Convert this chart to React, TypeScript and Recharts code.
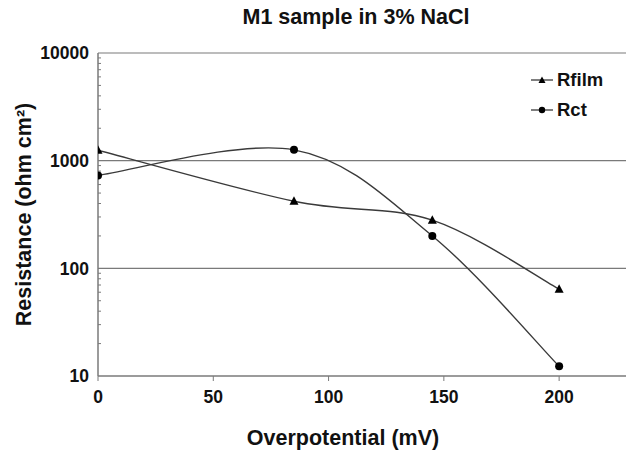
import { LineChart, Line, XAxis, YAxis, ReferenceLine } from "recharts"

// valeurs (échelle log en Y)
const overpotential = [0, 85, 145, 200]
const rFilm = [1250, 420, 280, 64]
const rCt = [730, 1260, 200, 12.3]

const xTicks = [0, 50, 100, 150, 200]
const yTicks = [10, 100, 1000, 10000]
const yMinorTicks = [20, 30, 40, 50, 60, 70, 80, 90, 200, 300, 400, 500, 600, 700, 800, 900, 2000, 3000, 4000, 5000, 6000, 7000, 8000, 9000]
const gridValues = [100, 1000, 10000]

const seriesNames = ["Rfilm", "Rct"]

const data = overpotential.map((x, i) => ({ x, rfilm: rFilm[i], rct: rCt[i] }))

const FONT = "'Liberation Sans', Arial, Helvetica, sans-serif"
const AXIS_COLOR = "#7a7a7a"
const LINE_COLOR = "#3a3a3a"

// lissage type Excel (Catmull-Rom -> Bézier)
function excelSmooth(context: any) {
  let pts: number[][] = []
  return {
    areaStart() {},
    areaEnd() {},
    lineStart() {
      pts = []
    },
    lineEnd() {
      const n = pts.length
      if (!n) return
      context.moveTo(pts[0][0], pts[0][1])
      for (let i = 0; i < n - 1; i++) {
        const p0 = pts[i - 1] || pts[i]
        const p1 = pts[i]
        const p2 = pts[i + 1]
        const p3 = pts[i + 2] || p2
        context.bezierCurveTo(
          p1[0] + (p2[0] - p0[0]) / 6,
          p1[1] + (p2[1] - p0[1]) / 6,
          p2[0] - (p3[0] - p1[0]) / 6,
          p2[1] - (p3[1] - p1[1]) / 6,
          p2[0],
          p2[1]
        )
      }
    },
    point(x: number, y: number) {
      pts.push([+x, +y])
    },
  }
}

const TriangleDot = (props: any) => {
  const { cx, cy } = props
  if (cx == null || cy == null) return <g key={props.key} />
  return <polygon key={props.key} points={`${cx},${cy - 5} ${cx - 4.5},${cy + 3.5} ${cx + 4.5},${cy + 3.5}`} fill="#000" />
}

const CircleDot = (props: any) => {
  const { cx, cy } = props
  if (cx == null || cy == null) return <g key={props.key} />
  return <circle key={props.key} cx={cx} cy={cy} r={4} fill="#000" />
}

const LegendIcon = ({ kind }: { kind: string }) => (
  <svg width={22} height={10} style={{ marginRight: 4 }}>
    <line x1={0} y1={5} x2={22} y2={5} stroke={LINE_COLOR} strokeWidth={1.3} />
    {kind === "Rfilm" ? (
      <polygon points="11,1.5 7.5,8 14.5,8" fill="#000" />
    ) : (
      <circle cx={11} cy={5} r={3.2} fill="#000" />
    )}
  </svg>
)

export default function App() {
  return (
    <div style={{ position: "absolute", left: 0, top: 0, width: 626, height: 451, background: "#fff", fontFamily: FONT }}>
      <div
        style={{
          position: "absolute",
          top: 5,
          left: 0,
          width: 712,
          textAlign: "center",
          fontSize: 21.5,
          fontWeight: "bold",
          color: "#111",
        }}
      >
        M1 sample in 3% NaCl
      </div>

      <LineChart width={626} height={451} data={data} margin={{ top: 53, right: 0, left: 0, bottom: 0 }}>
        {gridValues.map((v) => (
          <ReferenceLine key={v} y={v} stroke={AXIS_COLOR} strokeWidth={1.2} ifOverflow="extendDomain" />
        ))}
        <XAxis
          dataKey="x"
          type="number"
          domain={[0, 229]}
          allowDataOverflow
          ticks={xTicks}
          height={75}
          tickSize={5}
          tickMargin={10}
          stroke={AXIS_COLOR}
          axisLine={{ stroke: AXIS_COLOR, strokeWidth: 1.5 }}
          tickLine={{ stroke: AXIS_COLOR }}
          tick={{ fill: "#111", fontSize: 17.5, fontWeight: "bold", fontFamily: FONT }}
          label={{ value: "Overpotential (mV)", position: "insideBottom", offset: 6, dx: -19, fill: "#111", fontSize: 21.5, fontWeight: "bold", fontFamily: FONT }}
        />
        <YAxis
          type="number"
          scale="log"
          domain={[10, 10000]}
          allowDataOverflow
          ticks={yTicks}
          width={98}
          tickSize={0}
          tickMargin={9}
          tickLine={false}
          axisLine={{ stroke: AXIS_COLOR, strokeWidth: 1.5 }}
          tick={{ fill: "#111", fontSize: 17.5, fontWeight: "bold", fontFamily: FONT }}
          label={{
            value: "Resistance (ohm cm²)",
            angle: -90,
            position: "insideLeft",
            offset: 23,
            fill: "#111",
            fontSize: 21.5,
            fontWeight: "bold",
            fontFamily: FONT,
            style: { textAnchor: "middle" },
          }}
        />
        <YAxis
          yAxisId="minor"
          type="number"
          scale="log"
          domain={[10, 10000]}
          allowDataOverflow
          ticks={yMinorTicks}
          mirror
          tickSize={3}
          axisLine={false}
          tickLine={{ stroke: AXIS_COLOR }}
          tickFormatter={() => ""}
        />
        <Line
          dataKey="rfilm"
          name={seriesNames[0]}
          type={excelSmooth as any}
          stroke={LINE_COLOR}
          strokeWidth={1.4}
          dot={TriangleDot}
          activeDot={false}
          isAnimationActive={false}
        />
        <Line
          dataKey="rct"
          name={seriesNames[1]}
          type={excelSmooth as any}
          stroke={LINE_COLOR}
          strokeWidth={1.4}
          dot={CircleDot}
          activeDot={false}
          isAnimationActive={false}
        />
      </LineChart>

      <div style={{ position: "absolute", left: 531, top: 69, fontSize: 18.5, fontWeight: "bold", color: "#111" }}>
        {seriesNames.map((name) => (
          <div key={name} style={{ display: "flex", alignItems: "center", height: 22, marginBottom: 7.5 }}>
            <LegendIcon kind={name} />
            <span>{name}</span>
          </div>
        ))}
      </div>
    </div>
  )
}
